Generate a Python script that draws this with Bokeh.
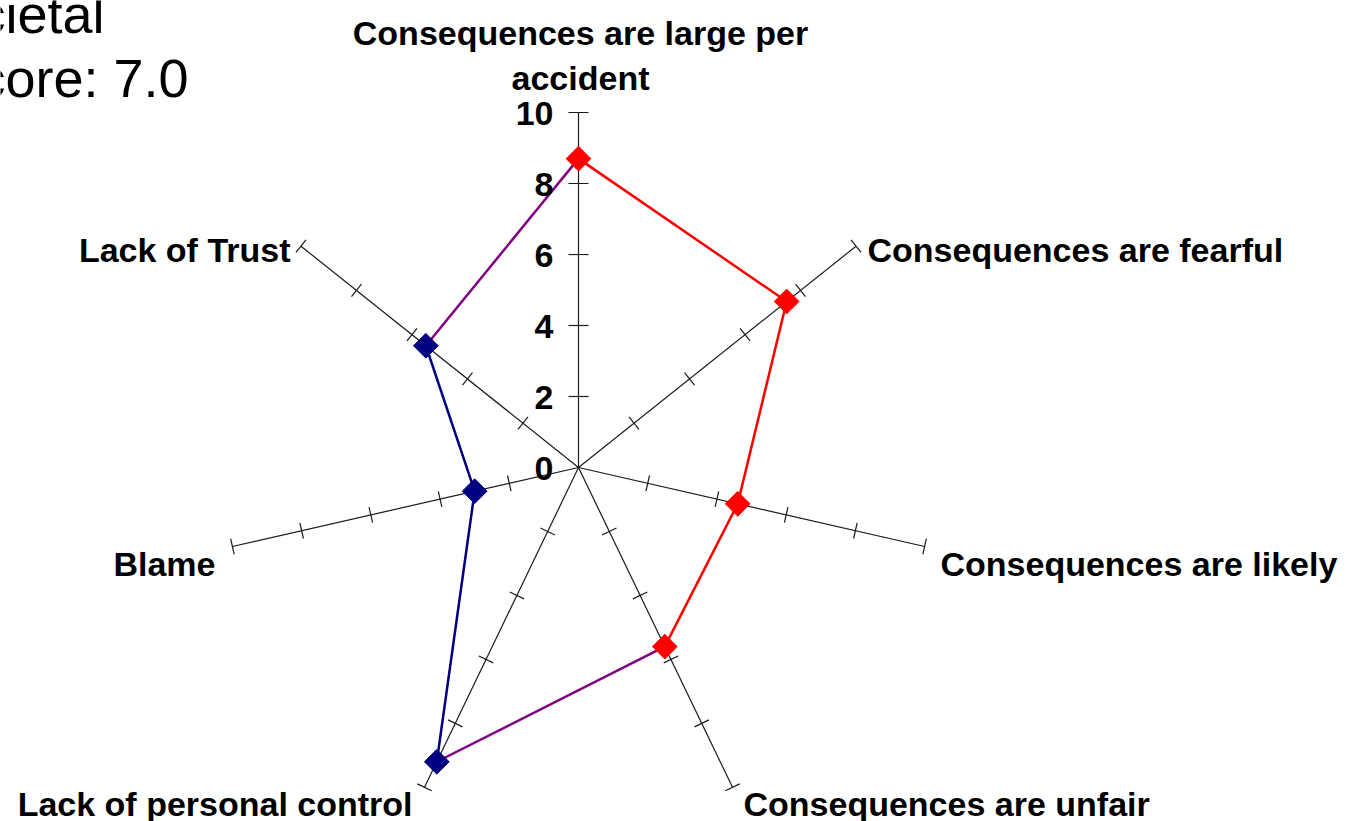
import math
from bokeh.plotting import figure
from bokeh.models import Range1d
from bokeh.embed import file_html
from bokeh.resources import INLINE
from bokeh.core.properties import value

# ---------------- data ----------------
categories = [
    "Consequences are large per accident",
    "Consequences are fearful",
    "Consequences are likely",
    "Consequences are unfair",
    "Lack of personal control",
    "Blame",
    "Lack of Trust",
]
scores = [8.7, 7.5, 4.6, 5.6, 9.2, 3.0, 5.5]
groups = ["consequences", "consequences", "consequences", "consequences",
          "control", "control", "control"]
tick_values = [0, 2, 4, 6, 8, 10]
tick_labels = ["0", "2", "4", "6", "8", "10"]
title_lines = ["Societal", "Score: 7.0"]
r_max = 10

# ---------------- styles ----------------
group_colors = {"consequences": "#FF0000", "control": "#000080"}
mixed_color = "#800080"
FONT = value("Liberation Sans")

W, H = 1350, 821
S = 35.5                 # pixels per unit
CX, CY = 578, 467        # canvas pixel of the centre


def px(X, Y):
    """reference-image pixel -> data coordinates"""
    return ((X - CX) / S, (CY - Y) / S)


p = figure(width=W, height=H, output_backend="svg", toolbar_location=None,
           x_range=Range1d(-CX / S, (W - CX) / S),
           y_range=Range1d(-(H - CY) / S, CY / S),
           x_axis_type=None, y_axis_type=None, min_border=0)
p.grid.visible = False
p.outline_line_color = None
p.background_fill_color = "white"

n = len(categories)
angles = [math.pi / 2 - i * 2 * math.pi / n for i in range(n)]

# spokes
p.segment(x0=[0] * n, y0=[0] * n,
          x1=[r_max * math.cos(a) for a in angles],
          y1=[r_max * math.sin(a) for a in angles],
          line_color="#1a1a1a", line_width=1.2)

# tick crosses
tx0, ty0, tx1, ty1 = [], [], [], []
for i, a in enumerate(angles):
    half = (10 if i == 0 else 8) / S
    for t in tick_values:
        if t == 0:
            continue
        cx, cy = t * math.cos(a), t * math.sin(a)
        nx, ny = -math.sin(a), math.cos(a)
        tx0.append(cx - nx * half); ty0.append(cy - ny * half)
        tx1.append(cx + nx * half); ty1.append(cy + ny * half)
p.segment(x0=tx0, y0=ty0, x1=tx1, y1=ty1, line_color="#1a1a1a", line_width=1.2)

# data polygon
xs = [v * math.cos(a) for v, a in zip(scores, angles)]
ys = [v * math.sin(a) for v, a in zip(scores, angles)]
sx0, sy0, sx1, sy1, scol = [], [], [], [], []
for i in range(n):
    j = (i + 1) % n
    sx0.append(xs[i]); sy0.append(ys[i]); sx1.append(xs[j]); sy1.append(ys[j])
    scol.append(group_colors[groups[i]] if groups[i] == groups[j] else mixed_color)
p.segment(x0=sx0, y0=sy0, x1=sx1, y1=sy1, line_color=scol, line_width=2.5)

p.scatter(xs, ys, marker="square", angle=math.pi / 4, size=17.5,
          fill_color=[group_colors[g] for g in groups],
          line_color=[group_colors[g] for g in groups], line_width=1)

# value-axis tick labels
for t, lab in zip(tick_values, tick_labels):
    x, _ = px(553, 0)
    p.text([x], [t - 1 / S], text=[lab], text_font=FONT, text_font_style="bold",
           text_font_size="34px", text_align="right", text_baseline="middle",
           text_color="black")

# category labels (layout anchors in reference pixels)
label_layout = [
    (["Consequences are large per", "accident"], [(580, 32), (580, 77)], "center"),
    ([categories[1]], [(867, 249)], "left"),
    ([categories[2]], [(940, 563)], "left"),
    ([categories[3]], [(743, 803)], "left"),
    ([categories[4]], [(412, 803)], "right"),
    ([categories[5]], [(215, 563)], "right"),
    ([categories[6]], [(290, 249)], "right"),
]
for texts, anchors, align in label_layout:
    for txt, (X, Y) in zip(texts, anchors):
        x, y = px(X, Y)
        p.text([x], [y], text=[txt], text_font=FONT, text_font_style="bold",
               text_font_size="34px", text_align=align,
               text_baseline="alphabetic", text_color="black")

# partially visible title at top-left
for txt, (X, Y) in zip(title_lines, [(104, 13), (188, 77)]):
    x, y = px(X, Y)
    p.text([x], [y], text=[txt], text_font=FONT, text_font_style="normal",
           text_font_size="54px", text_align="right",
           text_baseline="alphabetic", text_color="black")

open("out.html", "w").write(file_html(p, INLINE))
